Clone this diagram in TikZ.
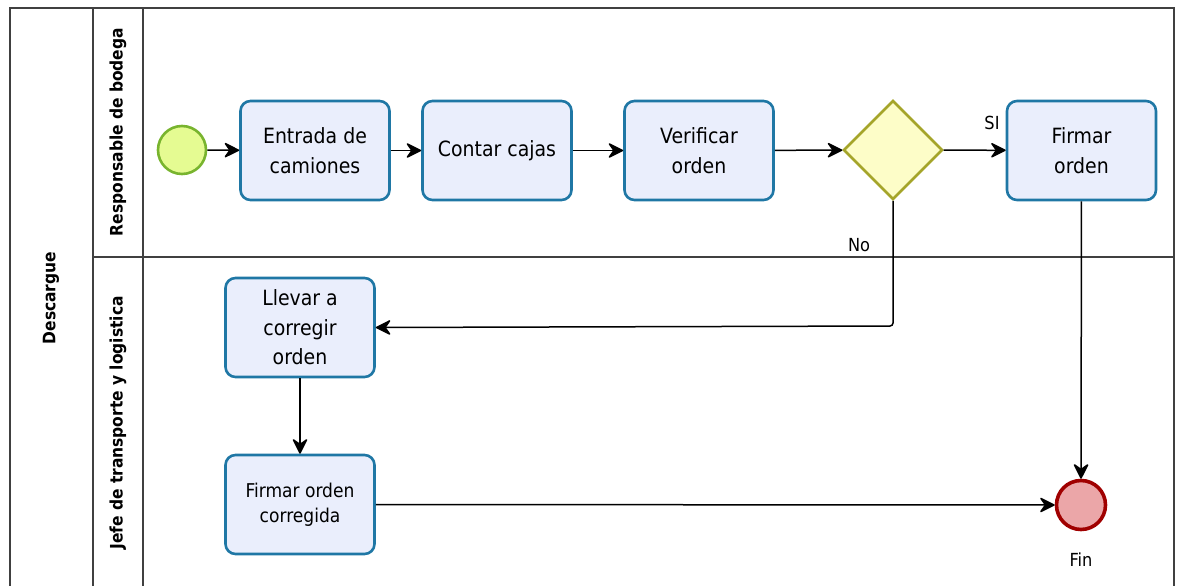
\documentclass[tikz,border=0pt]{standalone}
\usepackage{fontspec}
\setmainfont{DejaVu Sans Condensed}
\usetikzlibrary{arrows.meta,shapes.geometric}
\definecolor{taskfill}{HTML}{EAEEFC}
\definecolor{taskline}{HTML}{1F77A5}
\definecolor{startfill}{HTML}{E5FB92}
\definecolor{startline}{HTML}{78B42E}
\definecolor{gatefill}{HTML}{FDFDC8}
\definecolor{gateline}{HTML}{A5A52A}
\definecolor{endfill}{HTML}{EBA6A8}
\definecolor{endline}{HTML}{A00000}
\definecolor{poolline}{HTML}{404040}
\tikzset{
  task/.style={draw=taskline, fill=taskfill, line width=2.6pt, rounded corners=10pt,
    minimum width=149pt, minimum height=99pt, align=center,
    font=\fontsize{21}{29.5}\selectfont},
  smalltask/.style={task, font=\fontsize{19}{25}\selectfont},
  startev/.style={circle, draw=startline, fill=startfill, line width=2.6pt, minimum size=48pt, inner sep=0pt},
  endev/.style={circle, draw=endline, fill=endfill, line width=3.6pt, minimum size=49pt, inner sep=0pt},
  gate/.style={diamond, draw=gateline, fill=gatefill, line width=2.6pt, minimum width=99pt, minimum height=99pt, inner sep=0pt},
  flow/.style={draw=black, line width=1.5pt, -{Stealth[length=17pt,width=17pt,inset=6pt,round]}},
  lanelabel/.style={rotate=90, font=\fontsize{17.2}{20}\bfseries\selectfont},
  plain/.style={font=\fontsize{18}{21}\selectfont},
  pool/.style={draw=poolline, line width=1.4pt}
}
\begin{document}
\begin{tikzpicture}[x=1pt,y=-1pt]
\useasboundingbox (0,0) rectangle (1178,586);
% pool and lanes
\draw[pool] (10,590) -- (10,8) -- (1174,8) -- (1174,590);
\draw[pool] (93,8) -- (93,590);
\draw[pool] (143,8) -- (143,590);
\draw[pool] (93,257) -- (1174,257);
\node[lanelabel] (poolname) at (51,298) {Descargue};
\node[lanelabel] (lane1) at (118,132) {Responsable de bodega};
\node[lanelabel] (lane2) at (118,423) {Jefe de transporte y logistica};
% events, tasks and gateway
\node[startev] (start) at (182,150) {};
\node[task] (entrada) at (315,150.5) {Entrada de\\camiones};
\node[task] (contar) at (497,150.5) {Contar cajas};
\node[task] (verificar) at (699,150.5) {Verificar\\orden};
\node[gate] (gw) at (893,150) {};
\node[task] (firmar) at (1081.5,150.5) {Firmar\\orden};
\node[task] (llevar) at (300,327.5) {Llevar a\\corregir\\orden};
\node[smalltask] (corregida) at (300,504.5) {Firmar orden\\corregida};
\node[endev] (fin) at (1081,505) {};
\node[plain] (finlabel) at (1081,560) {Fin};
% sequence flows
\draw[flow] (start) -- (entrada);
\draw[flow] (entrada) -- (contar);
\draw[flow] (contar) -- (verificar);
\draw[flow] (verificar) -- (gw);
\draw[flow] (gw) -- (firmar);
\node[plain] (si) at (992,123) {SI};
\draw[flow, rounded corners=3pt] (gw.south) -- (893,326) -- (llevar.east);
\node[plain] (no) at (859,245) {No};
\draw[flow] (firmar) -- (fin);
\draw[flow] (llevar) -- (corregida);
\draw[flow] (corregida) -- (fin);
\end{tikzpicture}
\end{document}
